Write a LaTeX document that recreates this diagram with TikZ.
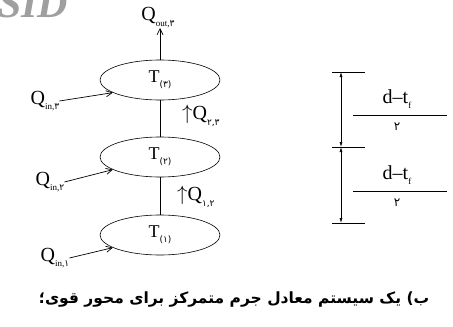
\documentclass[tikz,border=0pt]{standalone}
\usepackage{fontspec}
\setmainfont{Liberation Serif}
\newfontfamily\fafont[Script=Arabic]{DejaVu Sans}
\TeXXeTstate=1
\usetikzlibrary{arrows.meta,positioning,shapes.geometric}

\newcommand{\sbs}[1]{\raisebox{-0.6ex}{\fontsize{9}{10}\selectfont #1}}
\newcommand{\fd}[1]{{\fafont #1}}

\tikzset{
  mass/.style={draw, ellipse, line width=0.6pt, minimum width=120, minimum height=40, inner sep=0pt, font=\fontsize{18}{20}\selectfont},
  lbl/.style={inner sep=0pt, font=\fontsize{20}{22}\selectfont},
  heat/.style={-{Straight Barb[length=6pt,width=6pt]}, line width=0.7pt},
  dim/.style={{Latex[length=5pt,width=3pt]}-{Latex[length=5pt,width=3pt]}, line width=0.6pt},
}

\begin{document}
\begin{tikzpicture}[x=1pt, y=-1pt]
    \clip (0,0) rectangle (453,327);
    \fill[white] (0,0) rectangle (453,327);
    \node[anchor=base west, inner sep=0pt, text=gray!75, font=\fontsize{42}{42}\selectfont\bfseries\itshape] (sid) at (-2,17) {SID};

    \node[mass] (e3) at (160,80) {T\sbs{\fd{(۳)}}};
    \node[mass] (e2) at (160,157) {T\sbs{\fd{(۲)}}};
    \node[mass] (e1) at (160,235) {T\sbs{\fd{(۱)}}};
    \draw[line width=0.6pt] (e3.south) -- (e2.north);
    \draw[line width=0.6pt] (e2.south) -- (e1.north);

    \node[lbl, anchor=south] (qout) at (158,28) {Q\sbs{out,\fd{۳}}};
    \draw[heat] (e3.north) -- (e3.north |- qout.south);

    \node[lbl] (qin3) at (45,101) {Q\sbs{in,\fd{۳}}};
    \node[lbl] (qin2) at (50,182) {Q\sbs{in,\fd{۲}}};
    \node[lbl] (qin1) at (55,258) {Q\sbs{in,\fd{۱}}};
    \draw[heat] (qin3.east) -- (e3.195);
    \draw[heat] (qin2.east) -- (e2.195);
    \draw[heat] (qin1.east) -- (e1.195);

    \node[lbl, anchor=west] (q23) at (182,116) {$\uparrow$Q\sbs{\fd{۲,۳}}};
    \node[lbl, anchor=west] (q12) at (177,197) {$\uparrow$Q\sbs{\fd{۱,۲}}};

    % dimension on the right
    \coordinate (d0) at (341,72);
    \coordinate (d1) at (341,147);
    \coordinate (d2) at (341,223);
    \foreach \c in {d0,d1,d2}
        \draw[line width=0.5pt] ([xshift=-9]\c) -- ([xshift=24]\c);
    \draw[dim] (d0) -- (d1);
    \draw[dim] (d1) -- (d2);

    \node[lbl] (num1) at (397,99) {d–t\sbs{f}};
    \node[lbl] (num2) at (397,175) {d–t\sbs{f}};
    \draw[line width=0.5pt] (353,115) coordinate (f1a) -- (447,115) coordinate (f1b);
    \draw[line width=0.5pt] (353,191) coordinate (f2a) -- (447,191) coordinate (f2b);
    \node[inner sep=0pt, font=\fafont\fontsize{12}{12}\selectfont] (den1) at (397,127) {۲};
    \node[inner sep=0pt, font=\fafont\fontsize{12}{12}\selectfont] (den2) at (397,203) {۲};

    \node[inner sep=0pt, font=\fafont\bfseries\fontsize{15.5}{17}\selectfont] (cap) at (234,299)
        {\beginR ب) یک سیستم معادل جرم متمرکز برای محور قوی؛\endR};
\end{tikzpicture}
\end{document}
